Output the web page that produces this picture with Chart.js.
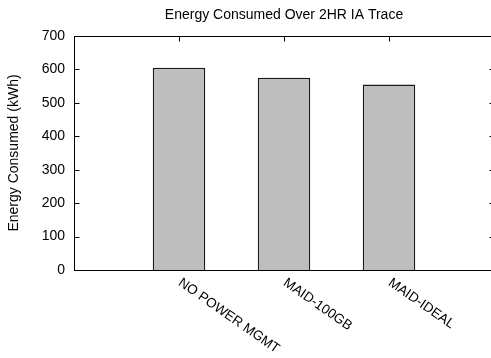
<!DOCTYPE html>
<html>
<head>
<meta charset="utf-8">
<script src="https://cdn.jsdelivr.net/npm/chart.js@4/dist/chart.umd.min.js"></script>
<style>
  html, body { margin: 0; padding: 0; overflow: hidden; background: #fff; }
  #wrap { width: 496px; height: 358px; }
</style>
</head>
<body>
<div id="wrap"><canvas id="c" width="496" height="358" style="width:496px;height:358px"></canvas></div>
<script>
// Energy used by each power-management policy over the 2-hour IA trace
const categories = ['NO POWER MGMT', 'MAID-100GB', 'MAID-IDEAL'];
const energyKWh = [605, 575, 555];
const yTickValues = [0, 100, 200, 300, 400, 500, 600, 700];

const FONT = "'Liberation Sans', Arial, Helvetica, sans-serif";
Chart.defaults.font.family = FONT;
Chart.defaults.color = '#000';

// Closed frame with short inward tick marks, drawn over the bars
const framePlugin = {
  id: 'frame',
  afterDatasetsDraw(chart) {
    const { ctx, chartArea: a, scales: { x, y } } = chart;
    const L = Math.round(a.left) + 0.5, R = Math.round(a.right) + 0.5;
    const T = Math.round(a.top) + 0.5, B = Math.round(a.bottom) + 0.5;
    const tick = 5;
    ctx.save();
    ctx.strokeStyle = '#000';
    ctx.lineWidth = 1;
    ctx.strokeRect(L, T, R - L, B - T);
    ctx.beginPath();
    yTickValues.forEach(v => {
      const py = Math.round(y.getPixelForValue(v)) + 0.5;
      ctx.moveTo(L, py); ctx.lineTo(L + tick, py);
      ctx.moveTo(R, py); ctx.lineTo(R - tick, py);
    });
    categories.forEach((c, i) => {
      const px = Math.round(x.getPixelForValue(i + 1)) + 0.5;
      ctx.moveTo(px, T); ctx.lineTo(px, T + tick);
    });
    ctx.stroke();
    ctx.restore();
  },
  afterDraw(chart) {
    // Category names, slanted downward to the right from each bar position
    const { ctx, chartArea: a, scales: { x } } = chart;
    ctx.save();
    ctx.fillStyle = '#000';
    ctx.font = '13.5px ' + FONT;
    ctx.textAlign = 'left';
    ctx.textBaseline = 'alphabetic';
    categories.forEach((c, i) => {
      const px = x.getPixelForValue(i + 1);
      ctx.save();
      ctx.translate(px - 1.5, a.bottom + 14.5);
      ctx.rotate(35 * Math.PI / 180);
      ctx.fillText(c, 0, 0);
      ctx.restore();
    });
    ctx.restore();
  }
};

new Chart(document.getElementById('c'), {
  type: 'bar',
  data: {
    datasets: [{
      data: categories.map((c, i) => ({ x: i + 1, y: energyKWh[i] })),
      backgroundColor: '#bebebe',
      borderColor: '#1a1a1a',
      borderWidth: 1.5,
      barPercentage: 0.5,
      categoryPercentage: 1
    }]
  },
  options: {
    responsive: false,
    animation: false,
    layout: { padding: { left: 0, right: 2, top: 0, bottom: 0 } },
    plugins: {
      legend: { display: false },
      tooltip: { enabled: false },
      title: {
        display: true,
        fullSize: false,
        text: 'Energy Consumed Over 2HR IA Trace',
        color: '#000',
        font: { size: 14, weight: 'normal' },
        padding: { top: 6.6, bottom: 12.6 }
      }
    },
    scales: {
      x: {
        type: 'linear',
        offset: false,
        min: 0,
        max: categories.length + 1,
        ticks: { display: false, stepSize: 1 },
        grid: { display: false, drawTicks: false, offset: false },
        border: { display: false },
        afterFit(s) { s.height = 88; }
      },
      y: {
        min: 0,
        max: 700,
        afterBuildTicks(s) { s.ticks = yTickValues.map(v => ({ value: v })); },
        ticks: { color: '#000', font: { size: 14 }, padding: 9 },
        grid: { display: false, drawTicks: false },
        border: { display: false },
        title: {
          display: true,
          text: 'Energy Consumed (kWh)',
          color: '#000',
          font: { size: 14 },
          padding: { top: 5.6, bottom: 0 }
        },
        afterFit(s) { s.width = 74; }
      }
    }
  },
  plugins: [framePlugin]
});
</script>
</body>
</html>
